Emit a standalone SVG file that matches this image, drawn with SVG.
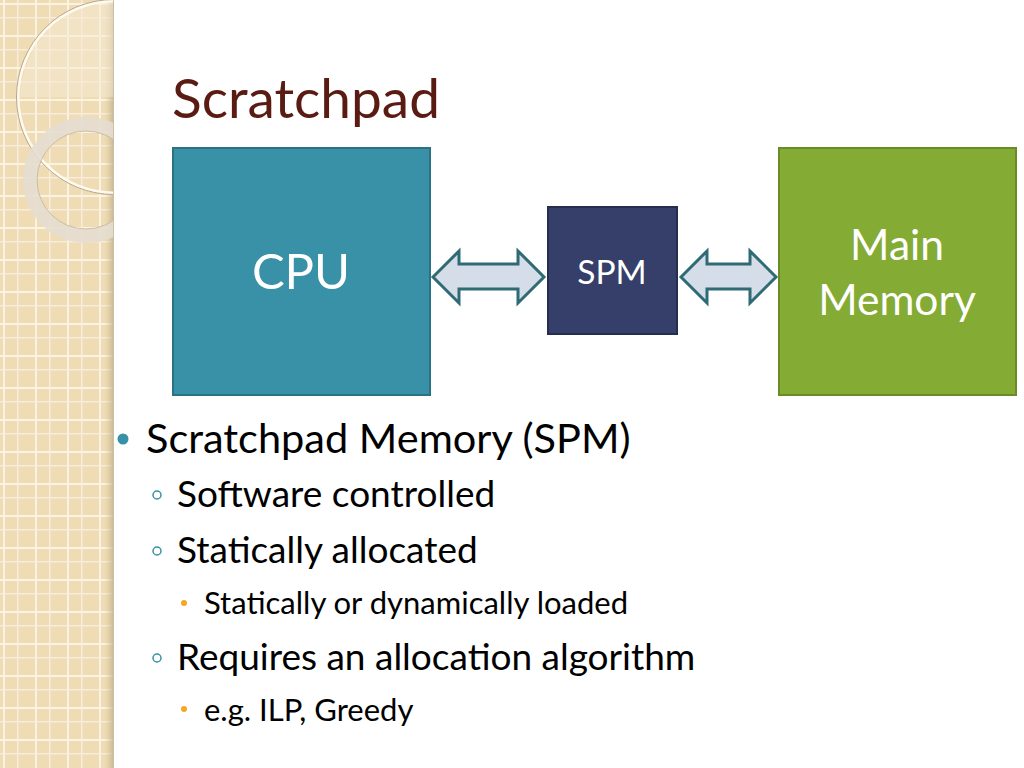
<svg xmlns="http://www.w3.org/2000/svg" width="1024" height="768" viewBox="0 0 1024 768">
<defs>
<pattern id="grid" x="0" y="0" width="32" height="32" patternUnits="userSpaceOnUse">
<rect width="32" height="32" fill="#efdcb4"/>
<rect x="3" y="0" width="2" height="32" fill="#fbf3e2"/>
<rect x="17" y="0" width="1.5" height="32" fill="#f8eddb"/>
<rect x="0" y="3" width="32" height="2" fill="#fbf3e2"/>
<rect x="0" y="17" width="32" height="1.5" fill="#f8eddb"/>
</pattern>
<linearGradient id="shadow" x1="0" y1="0" x2="1" y2="0">
<stop offset="0" stop-color="#d9c9a6" stop-opacity="0"/>
<stop offset="1" stop-color="#b9a985" stop-opacity="0.8"/>
</linearGradient>
<clipPath id="strip"><rect x="0" y="0" width="113" height="768"/></clipPath>
<style>
.t{font-family:"Lato","Open Sans",sans-serif;}
.box-label{fill:#ffffff;text-anchor:middle;}
.arrow{fill:#d5dde8;stroke:#2f6b75;stroke-width:3;stroke-linejoin:miter;}
.b1{font-size:41.5px;fill:#000;}
.b2{font-size:37px;fill:#000;}
.b3{font-size:31px;fill:#000;}
</style>
</defs>
<rect width="1024" height="768" fill="#ffffff"/>
<g id="background-strip">
<rect x="0" y="0" width="113" height="768" fill="url(#grid)"/>
<rect x="104" y="0" width="10" height="768" fill="url(#shadow)"/>
<g clip-path="url(#strip)">
<path d="M 113 0 A 100 100 0 0 0 20 97 L 113 97 Z" fill="#f5ead6" opacity="0.5"/>
<circle cx="114" cy="97" r="96" fill="none" stroke="#fffaf0" stroke-width="3"/>
<circle cx="114" cy="97" r="97.5" fill="none" stroke="#b8a887" stroke-width="1"/>
<circle cx="86" cy="180" r="56" fill="none" stroke="#e4ddd0" stroke-width="14" opacity="0.9"/>
<circle cx="86" cy="180" r="49" fill="none" stroke="#c9bda6" stroke-width="1"/>
</g>
</g>
<text class="t" x="172" y="118" font-size="55" fill="#5a1c12">Scratchpad</text>
<g id="cpu">
<rect x="173" y="148" width="257" height="247" fill="#3891a7" stroke="#2b7285" stroke-width="2"/>
<text class="t box-label" x="301" y="289" font-size="49">CPU</text>
</g>
<g id="spm">
<rect x="548" y="207" width="129" height="127" fill="#353f69" stroke="#262e4f" stroke-width="2"/>
<text class="t box-label" x="612" y="284" font-size="33.5">SPM</text>
</g>
<g id="main-memory">
<rect x="779" y="148" width="237" height="247" fill="#84ab34" stroke="#6a8c27" stroke-width="2"/>
<text class="t box-label" x="897" y="260" font-size="42.5">Main</text>
<text class="t box-label" x="897" y="315" font-size="42.5">Memory</text>
</g>
<g id="connectors">
<path class="arrow" d="M 433 277 L 459 251 L 459 264 L 518 264 L 518 251 L 544 277 L 518 303 L 518 289 L 459 289 L 459 303 Z"/>
<path class="arrow" d="M 681 277 L 707 251 L 707 264 L 750 264 L 750 251 L 776 277 L 750 303 L 750 289 L 707 289 L 707 303 Z"/>
</g>
<g id="bullets">
<circle cx="123" cy="439" r="5.5" fill="#3891a7"/>
<text class="t b1" x="146" y="453">Scratchpad Memory (SPM)</text>
<circle cx="157" cy="495" r="4" fill="none" stroke="#3891a7" stroke-width="1.5"/>
<text class="t b2" x="177" y="507">Software controlled</text>
<circle cx="157" cy="551" r="4" fill="none" stroke="#3891a7" stroke-width="1.5"/>
<text class="t b2" x="177" y="563">Statically allocated</text>
<circle cx="184" cy="603" r="3" fill="#f5a623"/>
<text class="t b3" x="204" y="614">Statically or dynamically loaded</text>
<circle cx="157" cy="658" r="4" fill="none" stroke="#3891a7" stroke-width="1.5"/>
<text class="t b2" x="177" y="670">Requires an allocation algorithm</text>
<circle cx="184" cy="709" r="3" fill="#f5a623"/>
<text class="t b3" x="204" y="721">e.g. ILP, Greedy</text>
</g>
</svg>
